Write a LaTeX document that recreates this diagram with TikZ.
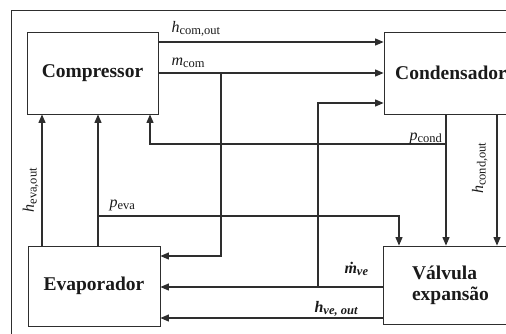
\documentclass[tikz,border=0pt]{standalone}
\usepackage{fontspec}
\setmainfont{Liberation Serif}
\usetikzlibrary{arrows.meta, calc}
\definecolor{lnblack}{HTML}{2E2E2E}
\definecolor{txblack}{HTML}{1A1A1A}
% subscript a bit larger than the default
\newcommand{\sbs}[1]{\textsubscript{\fontsize{12.5}{13}\selectfont #1}}

\begin{document}
\begin{tikzpicture}[
  x=1pt, y=-1pt,
  >={Triangle[length=8.5pt, width=7pt]},
  line width=1.1pt,
  block/.style={draw=lnblack, line width=0.8pt, inner sep=0pt,
    font=\fontsize{19.5}{21}\selectfont\bfseries, text=txblack},
  lbl/.style={inner sep=0pt, font=\fontsize{16}{18}\selectfont, text=txblack},
  flow/.style={->, draw=lnblack, line join=miter}
]

% Page
\useasboundingbox (0,0) rectangle (506,333);
\clip (0,0) rectangle (506,333);

% ── Frame ──
\draw[lnblack, line width=0.9pt] (11,10) rectangle (545,350);

% ── Blocks ──
\node[block, minimum width=131pt, minimum height=82pt] (comp) at (92.5,73) {Compressor};
\node[block, minimum width=134pt, minimum height=82pt] (cond) at (451,73) {Condensador};
\node[block, minimum width=132pt, minimum height=80pt] (evap) at (94,286) {Evaporador};
\node[block, minimum width=135pt, minimum height=78pt, align=left] (valv) at (450.5,285)
  {Válvula\\expansão};

% ── Rows and columns of the connectors ──
\coordinate (yhcom)  at (0,42);
\coordinate (ymcom)  at (0,73);
\coordinate (ymin)   at (0,103);
\coordinate (ypcond) at (0,144);
\coordinate (ypeva)  at (0,216);
\coordinate (ymeva)  at (0,256);
\coordinate (ymve)   at (0,287);
\coordinate (yhve)   at (0,318);
\coordinate (xheva)  at (42,0);
\coordinate (xpeva)  at (98,0);
\coordinate (xpcomp) at (150,0);
\coordinate (xmcom)  at (221,0);
\coordinate (xmve)   at (318,0);
\coordinate (xpvalv) at (399,0);
\coordinate (xpcond) at (446,0);
\coordinate (xhcond) at (497,0);

% ── Compressor -> Condensador ──
\draw[flow] (comp.east |- yhcom) -- (cond.west |- yhcom);
\draw[flow] (comp.east |- ymcom) -- (cond.west |- ymcom);
% mass flow also to the evaporator
\draw[flow] (xmcom |- ymcom) -- (xmcom |- ymeva) -- (evap.east |- ymeva);

% ── Valvula -> Evaporador / Condensador ──
\draw[flow] (valv.west |- ymve) -- (evap.east |- ymve);
\draw[flow] (xmve |- ymve) -- (xmve |- ymin) -- (cond.west |- ymin);
\draw[flow] (valv.west |- yhve) -- (evap.east |- yhve);

% ── Condensador -> Valvula / Compressor ──
\draw[flow] (xpcond |- cond.south) -- (xpcond |- valv.north);
\draw[flow] (xpcond |- ypcond) -- (xpcomp |- ypcond) -- (xpcomp |- comp.south);
\draw[flow] (xhcond |- cond.south) -- (xhcond |- valv.north);

% ── Evaporador -> Compressor / Valvula ──
\draw[flow] (xheva |- evap.north) -- (xheva |- comp.south);
\draw[flow] (xpeva |- evap.north) -- (xpeva |- comp.south);
\draw[flow] (xpeva |- ypeva) -- (xpvalv |- ypeva) -- (xpvalv |- valv.north);

% ── Labels ──
\node[lbl, anchor=base west] (lhcom) at (171,32) {\textit{h}\sbs{com,out}};
\node[lbl, anchor=base west] (lmcom) at (171,65) {\textit{m}\sbs{com}};
\node[lbl, anchor=base east] (lpcond) at (443,140) {\textit{p}\sbs{cond}};
\node[lbl, anchor=base west] (lpeva) at (109,207) {\textit{p}\sbs{eva}};
\node[lbl, anchor=base, rotate=90] (lheva) at (34,190) {\textit{h}\sbs{eva,out}};
\node[lbl, anchor=base, rotate=90] (lhcond) at (483,168) {\textit{h}\sbs{cond,out}};
\node[lbl, anchor=base west, font=\fontsize{16}{18}\selectfont\bfseries\itshape]
  (lmve) at (344,273) {\.{m}\sbs{ve}};
\node[lbl, anchor=base west, font=\fontsize{16}{18}\selectfont\bfseries\itshape]
  (lhve) at (314,312) {h\sbs{ve, out}};

\end{tikzpicture}
\end{document}
